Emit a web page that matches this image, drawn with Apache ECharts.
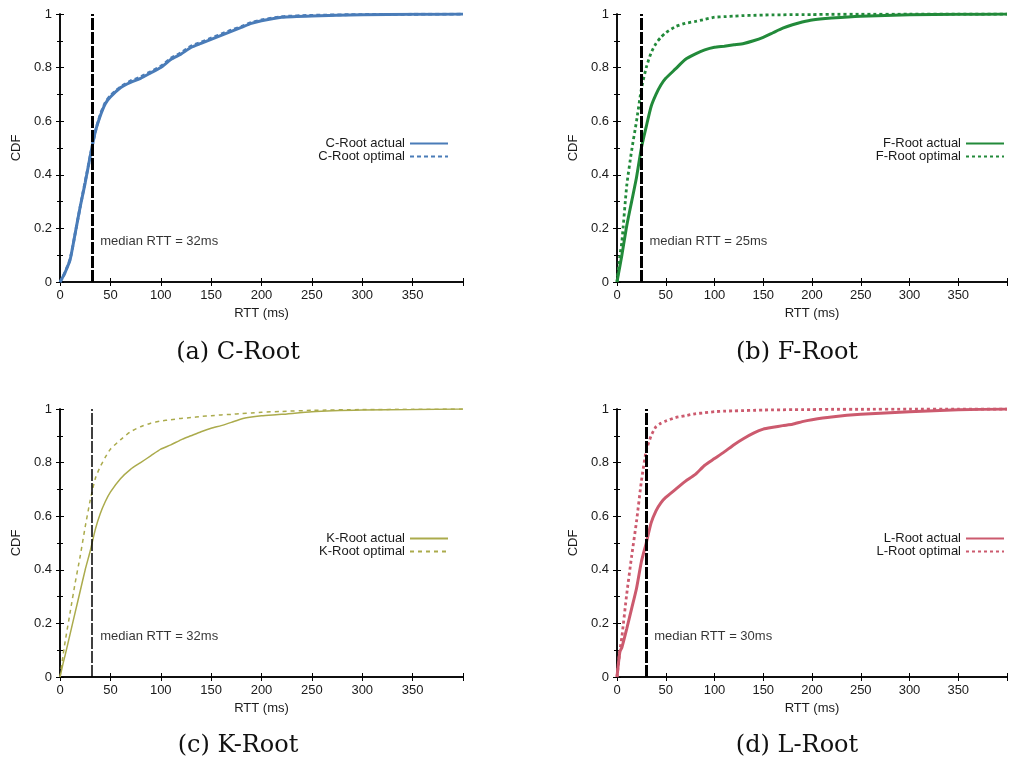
<!DOCTYPE html>
<html><head><meta charset="utf-8">
<script src="https://cdn.jsdelivr.net/npm/echarts@6/dist/echarts.min.js"></script>
<style>html,body{margin:0;padding:0;background:#fff}#c{width:1010px;height:764px}</style>
</head><body><div id="c"></div>
<script>
// RTT sample points (ms)
const rtt = [0,3,5,10,15,20,25,30,35,40,45,50,60,70,80,90,100,110,120,130,140,150,160,170,180,190,200,220,250,300,350,400];

const cActual  = [0,0.02,0.035,0.083,0.18,0.28,0.37,0.47,0.56,0.62,0.665,0.69,0.725,0.745,0.76,0.78,0.80,0.83,0.85,0.875,0.89,0.905,0.92,0.935,0.95,0.965,0.975,0.988,0.993,0.997,0.999,1];
const cOptimal = [0,0.02,0.037,0.085,0.18,0.28,0.375,0.47,0.56,0.625,0.67,0.695,0.728,0.75,0.765,0.785,0.805,0.835,0.855,0.88,0.895,0.91,0.925,0.94,0.953,0.968,0.978,0.99,0.995,0.998,0.999,1];

const fActual  = [0,0.06,0.1,0.21,0.30,0.39,0.5,0.58,0.655,0.70,0.735,0.76,0.795,0.83,0.85,0.866,0.876,0.88,0.885,0.89,0.90,0.913,0.93,0.947,0.96,0.97,0.978,0.985,0.992,0.997,0.999,1];
const fOptimal = [0,0.1,0.15,0.36,0.49,0.60,0.72,0.80,0.855,0.89,0.913,0.93,0.953,0.965,0.972,0.98,0.988,0.99,0.992,0.994,0.995,0.996,0.997,0.997,0.998,0.998,0.998,0.999,0.999,1,1,1];

const kActual  = [0,0.05,0.08,0.16,0.24,0.32,0.40,0.47,0.55,0.61,0.655,0.69,0.74,0.775,0.80,0.825,0.85,0.866,0.885,0.90,0.915,0.928,0.938,0.95,0.963,0.97,0.975,0.98,0.99,0.996,0.998,1];
const kOptimal = [0,0.08,0.13,0.24,0.35,0.45,0.56,0.66,0.74,0.785,0.82,0.85,0.885,0.915,0.934,0.947,0.955,0.96,0.965,0.968,0.972,0.975,0.978,0.98,0.983,0.985,0.988,0.991,0.995,0.998,0.999,1];

const lActual  = [0,0.095,0.11,0.18,0.255,0.33,0.43,0.50,0.575,0.62,0.65,0.67,0.70,0.73,0.755,0.79,0.815,0.84,0.867,0.89,0.91,0.925,0.932,0.938,0.943,0.953,0.96,0.97,0.98,0.99,0.997,1];
const lOptimal = [0,0.1,0.15,0.31,0.45,0.58,0.73,0.845,0.90,0.934,0.947,0.955,0.968,0.975,0.982,0.986,0.99,0.992,0.993,0.994,0.995,0.996,0.997,0.997,0.998,0.998,0.998,0.999,0.999,1,1,1];

const roots    = ['C-Root','F-Root','K-Root','L-Root'];
const captions = ['(a) C-Root','(b) F-Root','(c) K-Root','(d) L-Root'];
const medians  = [32,25,32,30];
const actuals  = [cActual,fActual,kActual,lActual];
const optimals = [cOptimal,fOptimal,kOptimal,lOptimal];
const xMax = 400, xStep = 50;
const yTicks = [0,0.2,0.4,0.6,0.8,1];

// styles
const colors   = ['#4a7cb8','#228a3a','#abab4c','#cc5a6e'];
const lineW    = [3,3,1.5,3];
const optDash  = [[4,3],[3,3],[4,4],[3,3]];
const medW     = [3,3,1.5,3];
const grids = [
  {left:60,top:14,width:403,height:268},
  {left:617,top:14,width:404,height:268},
  {left:60,top:409,width:403,height:268},
  {left:617,top:409,width:404,height:268}
];
const capPos = [[238,353],[797,353],[238,746],[797,746]];
const legendPos = [{right:556,top:132},{right:0,top:132},{right:556,top:527},{right:0,top:527}];

const font = 'Liberation Sans';
const txt = '#1a1a1a';
const xAxes = [], yAxes = [], series = [], legends = [], graphics = [];
const toPairs = arr => rtt.map((x,i)=>[x,arr[i]]);

grids.forEach((g,i)=>{
  const axLine = {show:true,lineStyle:{color:'#000',width:1.5}};
  xAxes.push({type:'value',gridIndex:i,position:'bottom',min:0,max:xMax,interval:xStep,
    axisLine:axLine,axisTick:{inside:true,length:4,lineStyle:{color:'#000'}},
    axisLabel:{color:txt,fontSize:13,fontFamily:font,margin:7,formatter:v=>v===xMax?'':String(v)},
    splitLine:{show:false},
    name:'RTT (ms)',nameLocation:'middle',nameGap:25,nameTextStyle:{color:txt,fontSize:13,fontFamily:font}});
  xAxes.push({type:'value',gridIndex:i,position:'top',min:0,max:xMax,interval:xStep,
    axisLine:axLine,axisTick:{inside:true,length:4,lineStyle:{color:'#000'}},
    axisLabel:{show:false},splitLine:{show:false}});
  yAxes.push({type:'value',gridIndex:i,position:'left',min:0,max:1,interval:0.2,
    axisLine:axLine,axisTick:{inside:true,length:4,lineStyle:{color:'#000'}},
    minorTick:{show:true,splitNumber:2,length:3,lineStyle:{color:'#000'}},
    axisLabel:{color:txt,fontSize:13,fontFamily:font,margin:8,
      formatter:v=>{const t=yTicks.find(y=>Math.abs(y-v)<1e-9);return t===undefined?'':String(t);}},
    splitLine:{show:false},
    name:'CDF',nameLocation:'middle',nameGap:37,nameTextStyle:{color:txt,fontSize:13,fontFamily:font}});
  yAxes.push({type:'value',gridIndex:i,position:'right',min:0,max:1,interval:0.2,
    axisLine:axLine,axisTick:{inside:true,length:4,lineStyle:{color:'#000'}},
    minorTick:{show:true,splitNumber:2,length:3,lineStyle:{color:'#000'}},
    axisLabel:{show:false},splitLine:{show:false}});

  const xb = 2*i, yl = 2*i;
  series.push({type:'line',name:roots[i]+' actual',xAxisIndex:xb,yAxisIndex:yl,
    data:toPairs(actuals[i]),symbol:'none',smooth:0.2,
    lineStyle:{color:colors[i],width:lineW[i],type:'solid'},itemStyle:{color:colors[i]},
    markLine:{silent:true,symbol:['none','none'],label:{show:false},
      lineStyle:{color:'#000',width:medW[i],type:[12,2]},data:[{xAxis:medians[i]}]},
    z:3});
  series.push({type:'line',name:roots[i]+' optimal',xAxisIndex:xb,yAxisIndex:yl,
    data:toPairs(optimals[i]),symbol:'none',smooth:0.2,
    lineStyle:{color:colors[i],width:lineW[i]===3?2.8:1.5,type:optDash[i]},itemStyle:{color:colors[i]},
    z:4});
  series.push({type:'scatter',name:'median'+i,xAxisIndex:xb,yAxisIndex:yl,silent:true,
    data:[[medians[i],0.153]],symbolSize:0,
    label:{show:true,position:'right',distance:8,color:'#000',fontSize:13,fontFamily:font,
      formatter:'median RTT = '+medians[i]+'ms'}});

  legends.push(Object.assign({orient:'vertical',align:'right',itemWidth:38,itemHeight:8,itemGap:0,
    data:[roots[i]+' actual',roots[i]+' optimal'],selectedMode:false,
    itemStyle:{opacity:0,borderWidth:0},
    textStyle:{color:txt,fontSize:13,fontFamily:font,lineHeight:12}},legendPos[i]));

  graphics.push({type:'text',x:capPos[i][0],y:capPos[i][1],
    style:{text:captions[i],fontSize:24,fontFamily:'DejaVu Serif',fill:'#111',align:'center',verticalAlign:'middle'}});
});

const chart = echarts.init(document.getElementById('c'),null,{renderer:'canvas'});
chart.setOption({
  animation:false,
  backgroundColor:'#fff',
  grid:grids,
  xAxis:xAxes,
  yAxis:yAxes,
  legend:legends,
  series:series,
  graphic:graphics
});
</script>
</body></html>
